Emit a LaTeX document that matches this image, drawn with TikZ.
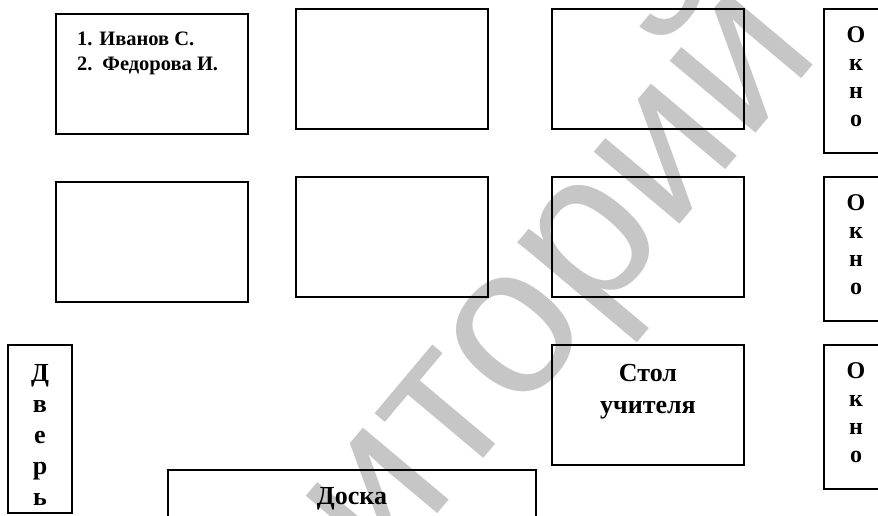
\documentclass[tikz,border=0pt]{standalone}
\usepackage{fontspec}
\setmainfont{Liberation Serif}
\newfontfamily\markfont{Liberation Sans}
\usetikzlibrary{positioning}
\definecolor{markgray}{HTML}{C6C6C6}

\begin{document}
\begin{tikzpicture}[
      x=1pt, y=-1pt,
      desk/.style={draw, line width=2pt, outer sep=0pt, inner sep=0pt, minimum width=192pt, minimum height=120pt},
      opening/.style={draw, line width=2pt, outer sep=0pt, inner sep=0pt, minimum width=64pt},
      word/.style={inner sep=0pt, align=center, font=\bfseries\fontsize{26}{32}\selectfont},
      names/.style={inner sep=0pt, align=left, font=\bfseries\fontsize{20.5}{25}\selectfont},
      letters/.style={inner sep=0pt, align=center, font=\bfseries\fontsize{24}{28}\selectfont},
      doorletters/.style={inner sep=0pt, align=center, font=\bfseries\fontsize{26}{31}\selectfont}]
    \useasboundingbox (0,0) rectangle (878,515);
    \clip (0,0) rectangle (878,515);
    % watermark under everything
    \node[anchor=base east, rotate=50, inner sep=0pt, text=markgray, font=\markfont\fontsize{212}{212}\selectfont] (mark) at (823,54) {репозиторий};
    % rows of desks
    \node[desk] (desk1) at (152,74) {};
    \node[desk, below=48pt of desk1] (desk4) {};
    \node[desk] (desk2) at (392,69) {};
    \node[desk, right=64pt of desk2] (desk3) {};
    \node[desk, below=48pt of desk2] (desk5) {};
    \node[desk, below=48pt of desk3] (desk6) {};
    \node[desk, below=48pt of desk6] (teacher) {};
    \node[names, anchor=north west] (pupils) at ([xshift=21pt,yshift=-18pt]desk1.north west) {1. Иванов С.\\2.\hspace{3pt} Федорова И.};
    \node[word, anchor=north] (teacherlabel) at ([yshift=-19pt]teacher.north) {Стол\\учителя};
    % windows
    \node[opening, minimum height=144pt, right=80pt of desk3.north east, anchor=north west] (win1) {};
    \node[opening, minimum height=144pt, below=24pt of win1] (win2) {};
    \node[opening, minimum height=144pt, below=24pt of win2] (win3) {};
    \foreach \w in {win1,win2,win3}
      \node[letters, anchor=north] (\w text) at ([yshift=-17pt]\w.north) {О\\к\\н\\о};
    % door and board
    \node[opening, minimum height=168pt] (door) at (40,429) {};
    \node[doorletters, anchor=north] (doortext) at ([yshift=-19pt]door.north) {Д\\в\\е\\р\\ь};
    \node[draw, line width=2pt, outer sep=0pt, minimum width=368pt, minimum height=120pt] (board) at (352,530) {};
    \node[word, anchor=north] (boardtext) at ([yshift=-17pt]board.north) {Доска};
  \end{tikzpicture}
\end{document}
